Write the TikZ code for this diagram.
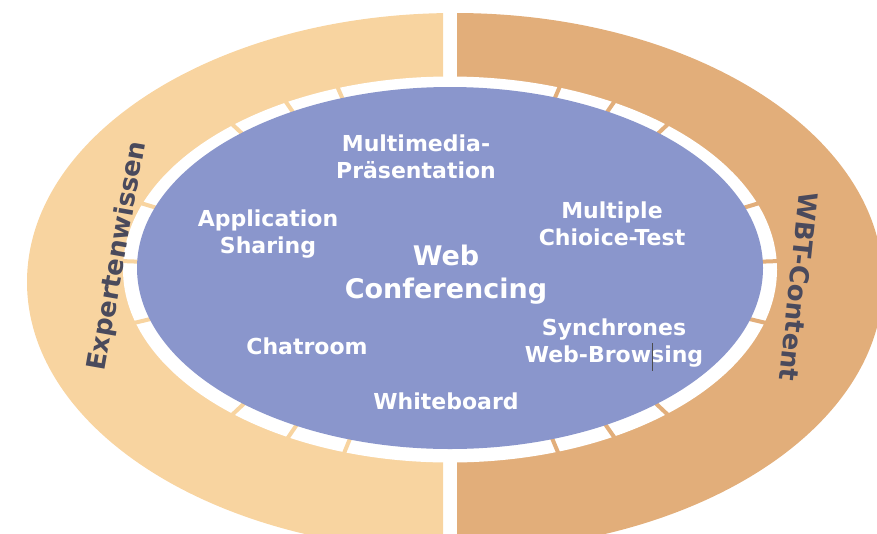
\documentclass[tikz,border=0pt]{standalone}
\usepackage{fontspec}
\setmainfont{DejaVu Sans}
\definecolor{peach}{HTML}{F8D4A0}
\definecolor{tanc}{HTML}{E2AE7A}
\definecolor{bluec}{HTML}{8A96CC}
\definecolor{outertext}{HTML}{4A4A5C}
\begin{document}
\begin{tikzpicture}[x=1pt,y=-1pt,
  lbl/.style={text=white, align=center, font=\bfseries\fontsize{22}{27}\selectfont, inner sep=0pt},
  biglbl/.style={text=white, align=center, font=\bfseries\fontsize{27}{33}\selectfont, inner sep=0pt},
  ringlbl/.style={text=outertext, font=\bfseries\fontsize{26}{30}\selectfont, inner sep=0pt},
  gapmark/.style={line width=4pt}]
\useasboundingbox (0,0) rectangle (877,533);
\clip (0,0) rectangle (877,533);
% outer halves
\begin{scope}
  \clip (0,0) rectangle (443,533);
  \fill[peach] (455,282) ellipse [x radius=428pt, y radius=269pt];
\end{scope}
\begin{scope}
  \clip (457,0) rectangle (877,533);
  \fill[tanc] (455,282) ellipse [x radius=428pt, y radius=269pt];
\end{scope}
% white ring
\fill[white] (450,269.5) ellipse [x radius=327pt, y radius=193pt];
% gaps in the ring
\foreach \t in {110,120,131.5,160,177.5,196,228.5,240.4,251.2}
  \draw[gapmark, draw=peach] ({450+306*cos(\t)},{269.5-175*sin(\t)}) -- ({450+336*cos(\t)},{269.5-200*sin(\t)});
\foreach \t in {70.5,60,48.5,20,2.5,-16,-48.5,-60,-70.8}
  \draw[gapmark, draw=tanc] ({450+306*cos(\t)},{269.5-175*sin(\t)}) -- ({450+336*cos(\t)},{269.5-200*sin(\t)});
% blue ellipse
\fill[bluec] (450,268) ellipse [x radius=313pt, y radius=181pt];
% labels
\node[lbl] (mm) at (416,157) {Multimedia-\\Präsentation};
\node[lbl] (as) at (268,234) {Application\\Sharing};
\node[lbl] (mc) at (612,224) {Multiple\\Chioice-Test};
\node[biglbl] (wc) at (446,275) {Web\\Conferencing};
\node[lbl] (sw) at (614,343) {Synchrones\\Web-Browsing};
\node[lbl] (ch) at (307,346) {Chatroom};
\node[lbl] (wb) at (446,401) {Whiteboard};
% cursor mark
\coordinate (cu1) at (652,343);
\coordinate (cu2) at (652,371);
\draw[black!70, line width=0.8pt] (cu1) -- (cu2);
% ring labels
\node[ringlbl, rotate=80] (ew) at (118,256) {Expertenwissen};
\node[ringlbl, rotate=-96] (wbt) at (799,287) {WBT-Content};
\end{tikzpicture}
\end{document}
